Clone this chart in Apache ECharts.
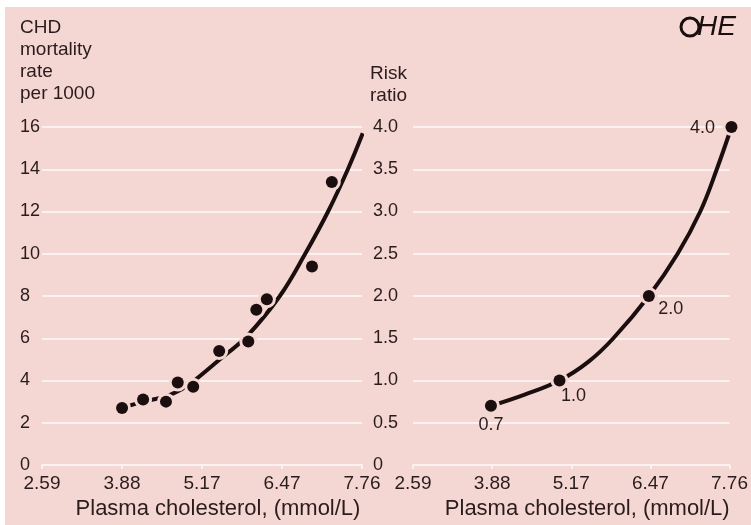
<!DOCTYPE html>
<html>
<head>
<meta charset="utf-8">
<script src="https://cdn.jsdelivr.net/npm/echarts@6/dist/echarts.min.js"></script>
<style>
  html, body { margin: 0; background: #fff; }
  #chart {
    width: 751px;
    height: 525px;
    background: linear-gradient(#f4d6d3, #f4d6d3) no-repeat 5px 7px / 746px 518px, #fff;
  }
</style>
</head>
<body>
<div id="chart"></div>
<script>
  // x ticks: 100..300 mg/dL shown in mmol/L
  const xTicks = ['2.59', '3.88', '5.17', '6.47', '7.76']
  const xMin = 2.586
  const xStep = 1.293

  // left panel: CHD mortality per 1000 (dots)
  const mortX = [3.88, 4.22, 4.59, 4.78, 5.03, 5.45, 5.92, 6.05, 6.22, 6.95, 7.27]
  const mortY = [2.7, 3.1, 3.0, 3.9, 3.7, 5.4, 5.85, 7.35, 7.85, 9.4, 13.4]
  // fitted curve
  const mortCurveX = [3.88, 4.22, 4.59, 4.85, 5.05, 5.5, 5.9, 6.43, 6.84, 7.21, 7.53, 7.77]
  const mortCurveY = [2.7, 3.0, 3.25, 3.6, 4.0, 5.1, 6.1, 8.0, 10.0, 12.0, 14.0, 15.7]

  // right panel: risk ratio
  const riskX = [3.86, 4.98, 6.44, 7.79]
  const riskY = [0.7, 1.0, 2.0, 4.0]
  const riskLabels = ['0.7', '1.0', '2.0', '4.0']
  const riskCurveX = [3.86, 4.4, 4.98, 5.45, 5.86, 6.44, 6.91, 7.28, 7.55, 7.79]
  const riskCurveY = [0.7, 0.83, 1.0, 1.22, 1.5, 2.0, 2.5, 3.0, 3.5, 4.0]

  const ink = '#1a0e0e'
  const textCol = '#2a1c1c'
  const pink = '#f4d6d3'
  const gridWhite = '#fbf1f0'
  const font = '"Liberation Sans", Arial, sans-serif'

  const zip = (xs, ys) => xs.map((x, i) => [x, ys[i]])

  function xAxisOpt(gridIndex) {
    return {
      type: 'value',
      gridIndex,
      min: xMin,
      max: xMin + 4 * xStep,
      interval: xStep,
      axisLine: { show: true, lineStyle: { color: gridWhite, width: 2 } },
      axisTick: { show: true, length: 4, lineStyle: { color: gridWhite, width: 2 } },
      splitLine: { show: false },
      axisLabel: {
        color: textCol,
        fontFamily: font,
        fontSize: 19,
        margin: 9,
        formatter: (v) => xTicks[Math.round((v - xMin) / xStep)],
      },
      name: 'Plasma cholesterol, (mmol/L)',
      nameLocation: 'middle',
      nameGap: 33,
      nameTextStyle: { color: textCol, fontFamily: font, fontSize: 22, padding: [0, 0, 0, 32] },
    }
  }

  function yAxisOpt(gridIndex, max, interval, margin, fmt) {
    return {
      type: 'value',
      gridIndex,
      min: 0,
      max,
      interval,
      axisLine: { show: false },
      axisTick: { show: false },
      splitLine: { show: true, lineStyle: { color: gridWhite, width: 2 } },
      axisLabel: {
        color: textCol,
        fontFamily: font,
        fontSize: 18,
        align: 'left',
        margin,
        formatter: fmt,
      },
    }
  }

  // per-point label placement for the risk dots
  const riskLabelOffset = [[0, 19], [14, 16], [22, 13], [-29, 1]]

  const dotStyle = { color: ink, opacity: 1 }
  const haloStyle = { color: pink, opacity: 1 }

  const chart = echarts.init(document.getElementById('chart'))
  chart.setOption({
    animation: false,
    title: [
      {
        text: 'CHD\nmortality\nrate\nper 1000',
        left: 20,
        top: 17,
        padding: 0,
        textStyle: { color: textCol, fontFamily: font, fontSize: 19, fontWeight: 'normal', lineHeight: 22 },
      },
      {
        text: 'Risk\nratio',
        left: 370,
        top: 63,
        padding: 0,
        textStyle: { color: textCol, fontFamily: font, fontSize: 19, fontWeight: 'normal', lineHeight: 22 },
      },
    ],
    grid: [
      { left: 42, top: 127, width: 320, height: 344 },
      { left: 413, top: 127, width: 322, height: 344 },
    ],
    xAxis: [xAxisOpt(0), xAxisOpt(1)],
    yAxis: [
      yAxisOpt(0, 16, 2, 22, (v) => String(v)),
      yAxisOpt(1, 4, 0.5, 40, (v) => (v === 0 ? '0' : v.toFixed(1))),
    ],
    series: [
      {
        type: 'line',
        xAxisIndex: 0,
        yAxisIndex: 0,
        data: zip(mortCurveX, mortCurveY),
        smooth: 0.4,
        showSymbol: false,
        clip: false,
        lineStyle: { color: ink, width: 4 },
        z: 2,
      },
      {
        type: 'scatter',
        xAxisIndex: 0,
        yAxisIndex: 0,
        data: zip(mortX, mortY),
        symbolSize: 18,
        itemStyle: haloStyle,
        silent: true,
        z: 3,
      },
      {
        type: 'scatter',
        xAxisIndex: 0,
        yAxisIndex: 0,
        data: zip(mortX, mortY),
        symbolSize: 12,
        itemStyle: dotStyle,
        z: 4,
      },
      {
        type: 'line',
        xAxisIndex: 1,
        yAxisIndex: 1,
        data: zip(riskCurveX, riskCurveY),
        smooth: 0.4,
        showSymbol: false,
        clip: false,
        lineStyle: { color: ink, width: 4 },
        z: 2,
      },
      {
        type: 'scatter',
        xAxisIndex: 1,
        yAxisIndex: 1,
        data: zip(riskX, riskY),
        symbolSize: 18,
        itemStyle: haloStyle,
        clip: false,
        silent: true,
        z: 3,
      },
      {
        type: 'scatter',
        xAxisIndex: 1,
        yAxisIndex: 1,
        data: riskX.map((x, i) => ({
          value: [x, riskY[i]],
          label: { offset: riskLabelOffset[i] },
        })),
        symbolSize: 12,
        itemStyle: dotStyle,
        clip: false,
        label: {
          show: true,
          position: 'inside',
          color: textCol,
          fontFamily: font,
          fontSize: 18,
          formatter: (p) => riskLabels[p.dataIndex],
        },
        z: 4,
      },
    ],
    graphic: [
      {
        type: 'circle',
        shape: { cx: 690, cy: 27, r: 9 },
        style: { fill: 'none', stroke: ink, lineWidth: 3 },
      },
      {
        type: 'text',
        x: 697,
        y: 13,
        style: { text: 'HE', fill: ink, font: 'italic 28px ' + font },
      },
    ],
  })
</script>
</body>
</html>
